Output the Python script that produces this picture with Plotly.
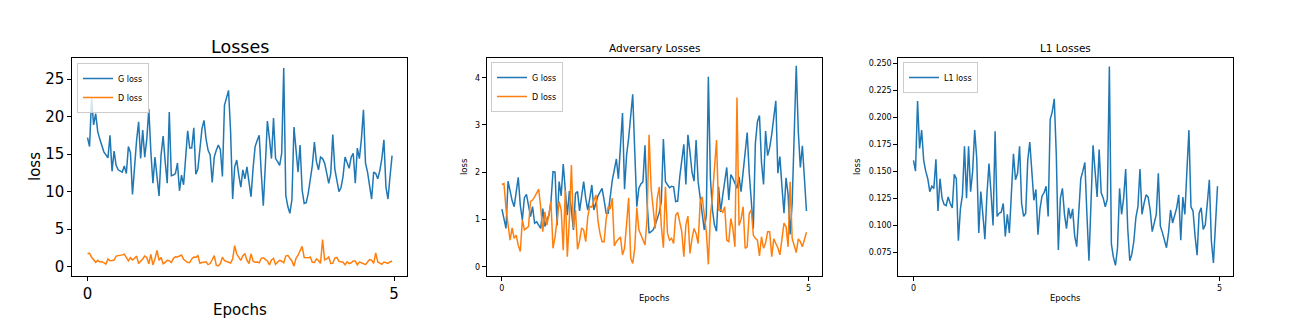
import numpy as np
import plotly.graph_objects as go

# ---------------- data ----------------
STEPS_PER_EPOCH = 30

g_loss_total = [
    17.2, 16.0, 22.4, 18.9, 20.4, 18.0, 17.0, 16.2, 15.3, 14.9,
    14.5, 17.5, 12.7, 15.4, 13.5, 12.9, 12.8, 12.6, 13.4, 12.4,
    16.0, 15.2, 9.6, 13.5, 16.8, 19.3, 14.4, 18.2, 14.6, 17.0,
    21.0, 15.3, 11.1, 14.6, 12.0, 9.4, 14.9, 17.4, 14.0, 11.1,
    20.6, 12.1, 12.2, 12.4, 13.8, 10.1, 12.2, 10.9, 14.5, 18.1,
    15.8, 15.8, 18.5, 12.3, 13.0, 16.0, 18.4, 19.5, 17.0, 15.5,
    14.9, 11.2, 14.6, 15.5, 16.2, 15.6, 12.0, 21.5, 22.5, 23.5,
    18.0, 9.0, 13.3, 14.2, 12.2, 10.6, 12.9, 11.7, 13.3, 11.5,
    9.3, 13.1, 16.0, 16.8, 17.5, 12.5, 8.1, 13.5, 19.4, 17.1,
    14.4, 19.8, 14.4, 14.0, 13.5, 15.1, 26.5, 9.5, 8.0, 7.1,
    8.9, 18.6, 15.0, 12.6, 16.2, 10.2, 8.4, 8.5, 9.8, 11.7,
    13.5, 16.6, 14.0, 12.9, 14.6, 14.4, 13.8, 12.5, 11.1, 12.4,
    17.6, 13.0, 11.7, 10.0, 10.5, 12.0, 14.6, 13.8, 13.1, 14.6,
    15.1, 11.1, 15.8, 14.4, 17.0, 20.9, 13.8, 12.6, 11.0, 9.0,
    12.6, 12.4, 11.7, 12.8, 14.4, 16.9, 10.6, 9.0, 12.0, 14.8,
]

g_loss_adv = [
    1.22, 1.02, 0.81, 1.81, 1.59, 1.40, 1.27, 1.62, 1.89, 1.30,
    0.99, 1.46, 1.53, 1.30, 1.06, 1.27, 0.92, 0.95, 0.88, 0.81,
    1.23, 0.85, 1.00, 1.09, 1.38, 2.01, 2.00, 0.87, 1.80, 1.50,
    2.17, 1.52, 1.09, 1.60, 1.20, 0.78, 1.55, 1.59, 1.18, 1.50,
    1.80, 1.45, 1.20, 1.45, 1.73, 1.20, 1.34, 1.50, 1.58, 1.66,
    1.41, 1.13, 1.13, 1.50, 1.83, 2.05, 2.28, 1.86, 2.60, 3.25,
    1.64, 2.36, 2.72, 3.20, 3.65, 2.43, 1.27, 1.66, 1.75, 1.80,
    2.57, 1.38, 0.71, 0.74, 0.78, 0.88, 1.02, 1.15, 1.38, 2.70,
    1.80, 1.73, 1.67, 1.70, 1.69, 1.38, 1.39, 1.90, 2.20, 2.59,
    1.74, 2.79, 2.43, 2.00, 1.81, 2.68, 1.80, 1.48, 1.10, 0.78,
    1.09, 4.02, 1.87, 1.20, 0.88, 0.75, 1.69, 1.16, 1.50, 1.80,
    2.10, 1.41, 1.95, 1.87, 1.75, 1.66, 1.90, 1.59, 2.00, 2.36,
    2.84, 1.98, 1.40, 0.81, 2.61, 3.07, 3.20, 2.20, 1.74, 2.87,
    2.35, 2.52, 2.80, 3.14, 3.51, 1.98, 2.33, 1.70, 1.13, 1.88,
    1.53, 0.68, 1.34, 2.80, 4.25, 2.86, 2.10, 2.56, 1.80, 1.18,
]

d_loss = [
    1.74, 1.76, 1.23, 0.90, 0.56, 0.82, 0.60, 0.67, 0.45, 0.32,
    0.99, 0.78, 0.81, 0.85, 1.38, 1.41, 1.48, 1.55, 1.64, 1.25,
    0.74, 1.16, 0.88, 1.10, 1.38, 0.39, 0.63, 1.00, 1.38, 1.20,
    0.35, 1.62, 0.21, 1.00, 2.15, 0.81, 1.20, 0.37, 0.55, 0.82,
    0.78, 0.53, 1.06, 1.28, 1.26, 1.40, 1.52, 0.97, 0.70, 0.53,
    0.53, 1.00, 1.27, 1.22, 1.45, 0.44, 0.53, 0.58, 0.63, 0.25,
    0.39, 0.90, 1.46, 0.18, 0.07, 0.39, 1.25, 0.78, 0.67, 0.55,
    0.46, 1.01, 2.79, 1.66, 1.20, 0.81, 1.45, 1.69, 0.85, 0.40,
    1.69, 0.71, 0.56, 0.60, 0.49, 1.09, 1.15, 0.90, 0.74, 0.21,
    0.88, 1.07, 0.28, 0.59, 0.81, 0.70, 0.49, 1.38, 1.48, 1.10,
    0.74, 0.05, 1.09, 1.50, 2.10, 2.68, 1.20, 1.20, 1.15, 1.27,
    0.56, 0.53, 1.02, 0.80, 0.42, 3.58, 0.87, 1.00, 1.27, 0.39,
    0.42, 1.13, 1.20, 0.67, 0.60, 0.56, 0.23, 0.63, 0.39, 0.50,
    0.74, 0.74, 0.21, 0.59, 0.49, 0.40, 0.25, 0.60, 0.92, 0.85,
    0.42, 1.80, 0.60, 0.45, 0.30, 0.59, 0.53, 0.42, 0.60, 0.73,
]

l1_loss = [
    0.160, 0.150, 0.215, 0.171, 0.188, 0.160, 0.150, 0.143, 0.131, 0.136,
    0.134, 0.161, 0.113, 0.143, 0.125, 0.119, 0.118, 0.126, 0.120, 0.116,
    0.147, 0.143, 0.0855, 0.115, 0.128, 0.173, 0.125, 0.173, 0.131, 0.150,
    0.188, 0.162, 0.0926, 0.131, 0.110, 0.087, 0.128, 0.157, 0.130, 0.0997,
    0.187, 0.108, 0.111, 0.112, 0.120, 0.0895, 0.110, 0.0926, 0.130, 0.166,
    0.142, 0.148, 0.173, 0.120, 0.108, 0.111, 0.160, 0.177, 0.150, 0.123,
    0.133, 0.091, 0.115, 0.127, 0.130, 0.136, 0.108, 0.198, 0.205, 0.217,
    0.165, 0.077, 0.125, 0.134, 0.110, 0.0967, 0.116, 0.106, 0.115, 0.090,
    0.080, 0.110, 0.143, 0.150, 0.158, 0.110, 0.067, 0.120, 0.174, 0.150,
    0.126, 0.170, 0.130, 0.125, 0.117, 0.124, 0.247, 0.0824, 0.070, 0.0627,
    0.079, 0.134, 0.110, 0.125, 0.152, 0.097, 0.067, 0.073, 0.085, 0.107,
    0.117, 0.152, 0.110, 0.120, 0.128, 0.126, 0.114, 0.094, 0.101, 0.110,
    0.148, 0.099, 0.093, 0.085, 0.079, 0.093, 0.114, 0.102, 0.110, 0.116,
    0.128, 0.086, 0.126, 0.110, 0.150, 0.188, 0.117, 0.113, 0.090, 0.072,
    0.111, 0.116, 0.096, 0.100, 0.120, 0.142, 0.085, 0.065, 0.100, 0.136,
]

epochs = np.arange(len(g_loss_total)) / STEPS_PER_EPOCH

x_tick_vals = [0, 5]
y1_tick_vals = [0, 5, 10, 15, 20, 25]
y2_tick_vals = [0, 1, 2, 3, 4]
y3_tick_vals = [0.075, 0.100, 0.125, 0.150, 0.175, 0.200, 0.225, 0.250]
y3_tick_text = ["0.075", "0.100", "0.125", "0.150", "0.175", "0.200", "0.225", "0.250"]

# ---------------- styling ----------------
W, H = 1291, 334
BLUE = "#1f77b4"
ORANGE = "#ff7f0e"
FONT = "DejaVu Sans"

def px_x(p):
    return p / W

def px_y(p):
    return 1 - p / H

top, bottom = 58, 276
dom_x = [(72.3, 407.3), (486.7, 821.7), (898.3, 1232.7)]

fig = go.Figure()

fig.add_trace(go.Scatter(x=epochs, y=g_loss_total, mode="lines", name="G loss",
                         line=dict(color=BLUE, width=1.5), xaxis="x", yaxis="y", legend="legend"))
fig.add_trace(go.Scatter(x=epochs, y=d_loss, mode="lines", name="D loss",
                         line=dict(color=ORANGE, width=1.5), xaxis="x", yaxis="y", legend="legend"))
fig.add_trace(go.Scatter(x=epochs, y=g_loss_adv, mode="lines", name="G loss",
                         line=dict(color=BLUE, width=1.5), xaxis="x2", yaxis="y2", legend="legend2"))
fig.add_trace(go.Scatter(x=epochs, y=d_loss, mode="lines", name="D loss",
                         line=dict(color=ORANGE, width=1.5), xaxis="x2", yaxis="y2", legend="legend2"))
fig.add_trace(go.Scatter(x=epochs, y=l1_loss, mode="lines", name="L1 loss",
                         line=dict(color=BLUE, width=1.5), xaxis="x3", yaxis="y3", legend="legend3"))

def axis_common(fs):
    return dict(showline=True, mirror=True, linecolor="black", linewidth=1,
                ticks="outside", ticklen=4, tickwidth=1, tickcolor="black",
                showgrid=False, zeroline=False,
                tickfont=dict(family=FONT, size=fs, color="black"))

yd = [px_y(bottom), px_y(top)]
fig.update_layout(
    width=W, height=H, margin=dict(l=0, r=0, t=0, b=0),
    paper_bgcolor="white", plot_bgcolor="white",
    font=dict(family=FONT, color="black"),
    xaxis=dict(domain=[px_x(dom_x[0][0]), px_x(dom_x[0][1])], range=[-0.248, 5.215],
               tickvals=x_tick_vals, anchor="y", **axis_common(15)),
    yaxis=dict(domain=yd, range=[-1.27, 27.82], tickvals=y1_tick_vals, anchor="x", **axis_common(15)),
    xaxis2=dict(domain=[px_x(dom_x[1][0]), px_x(dom_x[1][1])], range=[-0.248, 5.215],
                tickvals=x_tick_vals, anchor="y2", **axis_common(8)),
    yaxis2=dict(domain=yd, range=[-0.197, 4.417], tickvals=y2_tick_vals, anchor="x2", **axis_common(8)),
    xaxis3=dict(domain=[px_x(dom_x[2][0]), px_x(dom_x[2][1])], range=[-0.248, 5.215],
                tickvals=x_tick_vals, anchor="y3", **axis_common(8)),
    yaxis3=dict(domain=yd, range=[0.0528, 0.2549], tickvals=y3_tick_vals, ticktext=y3_tick_text,
                anchor="x3", **axis_common(8)),
)

leg_common = dict(bgcolor="rgba(255,255,255,0.8)", bordercolor="#cccccc", borderwidth=1,
                  font=dict(family=FONT, size=8, color="black"),
                  xanchor="left", yanchor="top", tracegroupgap=0, itemwidth=30)
fig.update_layout(
    legend=dict(x=px_x(77), y=px_y(63), **leg_common),
    legend2=dict(x=px_x(491), y=px_y(62), **leg_common),
    legend3=dict(x=px_x(903), y=px_y(62), **leg_common),
)

def ann(text, x, y, size, angle=0):
    fig.add_annotation(text=text, x=px_x(x), y=px_y(y), xref="paper", yref="paper",
                       showarrow=False, textangle=angle, xanchor="center", yanchor="middle",
                       font=dict(family=FONT, size=size, color="black"))

# titles
ann("Losses", (dom_x[0][0] + dom_x[0][1]) / 2, 47, 17.5)
ann("Adversary Losses", (dom_x[1][0] + dom_x[1][1]) / 2, 47.5, 10.5)
ann("L1 Losses", (dom_x[2][0] + dom_x[2][1]) / 2, 48, 10.5)
# axis labels
ann("Epochs", (dom_x[0][0] + dom_x[0][1]) / 2, 310, 15)
ann("loss", 35, (top + bottom) / 2, 15, -90)
ann("Epochs", (dom_x[1][0] + dom_x[1][1]) / 2, 298, 8.5)
ann("loss", 464, (top + bottom) / 2, 8.5, -90)
ann("Epochs", (dom_x[2][0] + dom_x[2][1]) / 2, 298, 8.5)
ann("loss", 857, (top + bottom) / 2, 8.5, -90)

fig.write_html("out.html")
